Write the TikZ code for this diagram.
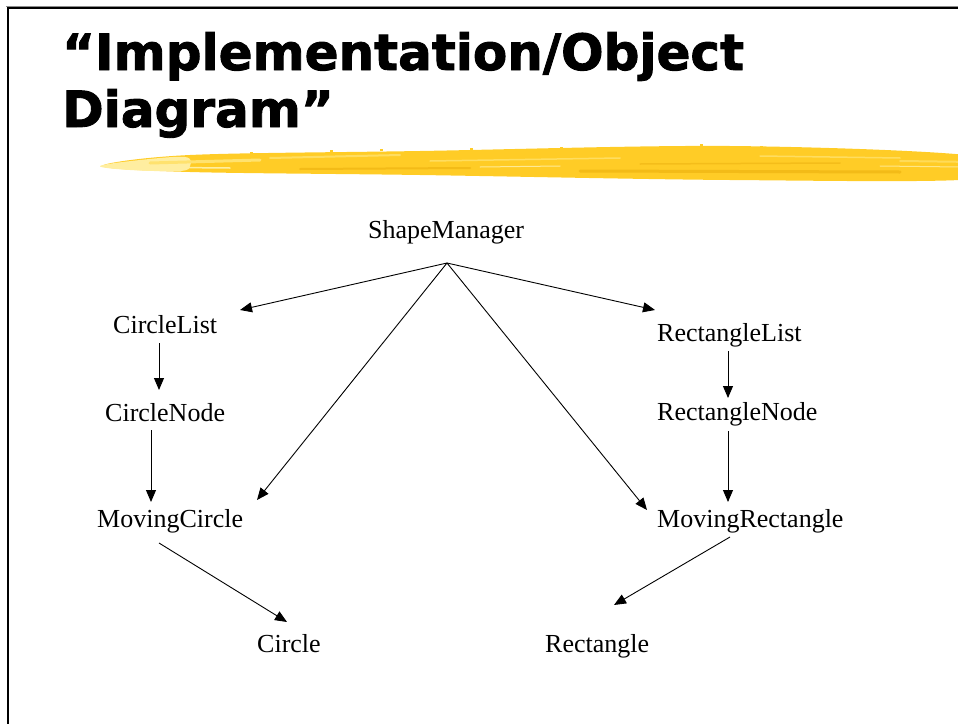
\documentclass[tikz,border=0pt]{standalone}
\usepackage{fontspec}
\setmainfont{Liberation Serif}
\newfontfamily\titlefont[FakeBold=1.8]{DejaVu Sans Bold}
\usetikzlibrary{arrows.meta,calc}

\definecolor{brushgold}{RGB}{255,204,38}
\definecolor{brushlight}{RGB}{255,226,110}
\definecolor{brushpale}{RGB}{255,238,160}
\definecolor{brushdark}{RGB}{238,180,18}
\definecolor{framegray}{RGB}{140,140,140}

\tikzset{
  cls/.style={anchor=base west, inner sep=0pt, font=\fontsize{26}{30}\selectfont},
  rel/.style={-{Triangle[length=12pt,width=10pt]}, line width=0.9pt},
  heading/.style={anchor=base west, inner sep=0pt, font=\titlefont\fontsize{50}{56}\selectfont},
  streak/.style={line width=#1, line cap=round},
}

\begin{document}
\begin{tikzpicture}[x=1pt,y=-1pt]
\useasboundingbox (0,0) rectangle (958,723);

% slide frame
\draw[framegray, line width=1pt] (6,6) -- (970,6);
\draw[line width=2.4pt] (8,740) -- (8,8) -- (970,8);

% heading
\node[heading] (t1) at (62,70) {\scalebox{1.0}[1]{“Implementation/Object}};
\node[heading] (t2) at (62,127) {\scalebox{1.0}[1]{Diagram”}};

% brush stroke under the heading
\fill[brushgold] plot[smooth cycle, tension=0.55] coordinates
  {(102,166) (190,155) (420,151) (730,146) (975,156) (975,179) (730,180) (420,175) (190,172)};
% paler, dry-brush tail on the left
\fill[brushpale] plot[smooth cycle, tension=0.6] coordinates
  {(100,166) (140,160) (185,157) (190,166) (180,171) (130,170)};
\draw[brushlight, streak=3pt] (150,163) -- (260,160);
\draw[brushpale, streak=1.5pt] (120,167) -- (230,168);
% bristle streaks along the stroke
\draw[brushlight, streak=2pt, opacity=0.8] (270,158) -- (400,155);
\draw[brushlight, streak=1.5pt, opacity=0.8] (430,161) -- (620,158);
\draw[brushpale, streak=1pt, opacity=0.9] (480,167) -- (560,166);
\draw[brushdark, streak=2pt, opacity=0.7] (300,169) -- (470,168);
\draw[brushdark, streak=3pt, opacity=0.7] (580,171) -- (900,172);
\draw[brushdark, streak=1.5pt, opacity=0.6] (640,164) -- (840,163);
\draw[brushlight, streak=1.5pt, opacity=0.8] (760,156) -- (900,158);
\draw[brushpale, streak=1pt, opacity=0.8] (880,166) -- (960,167);
\draw[brushlight, streak=2pt, opacity=0.7] (900,161) -- (975,162);
% loose flecks above the stroke
\foreach \px/\py in {250/152, 330/150, 380/149, 470/148, 560/147, 640/147, 700/144, 760/146, 830/149, 880/150, 920/152}
  \fill[brushgold] (\px,\py) rectangle ++(3,2);

% classes
\node[cls] (sm) at (368,238) {ShapeManager};
\node[cls] (cl) at (113,333) {CircleList};
\node[cls] (cn) at (105,421) {CircleNode};
\node[cls] (mc) at (97,527) {MovingCircle};
\node[cls] (rl) at (657,341) {RectangleList};
\node[cls] (rn) at (657,420) {RectangleNode};
\node[cls] (mr) at (657,527) {MovingRectangle};
\node[cls] (ci) at (257,652) {Circle};
\node[cls] (re) at (545,652) {Rectangle};

\coordinate (hub) at ($(sm.base west)+(79,25)$);

% references held by the manager
\draw[rel] (hub) -- ($(cl.base west)+(127,-23)$);
\draw[rel] (hub) -- ($(mc.base west)+(160,-27)$);
\draw[rel] (hub) -- ($(rl.base west)+(-2,-31)$);
\draw[rel] (hub) -- ($(mr.base west)+(-10,-17)$);

% list chains
\draw[rel] ($(cl.base west)+(46,10)$) -- ($(cn.base west)+(54,-31)$);
\draw[rel] ($(cn.base west)+(46,9)$) -- ($(mc.base west)+(54,-25)$);
\draw[rel] ($(rl.base west)+(71,10)$) -- ($(rn.base west)+(71,-22)$);
\draw[rel] ($(rn.base west)+(71,11)$) -- ($(mr.base west)+(71,-25)$);

% inheritance of the moving shapes
\draw[rel] ($(mc.base west)+(62,16)$) -- ($(ci.base west)+(30,-30)$);
\draw[rel] ($(mr.base west)+(73,10)$) -- ($(re.base west)+(69,-47)$);
\end{tikzpicture}
\end{document}
